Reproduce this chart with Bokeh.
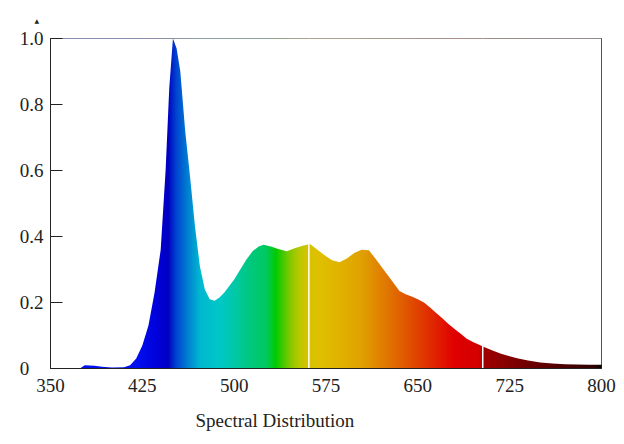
import numpy as np
from bokeh.plotting import figure
from bokeh.models import Range1d, FixedTicker, Title
from bokeh.embed import file_html
from bokeh.resources import INLINE

# spectral data
wavelength = [350, 374, 378, 382, 386, 392, 400, 410, 415, 420, 425, 430, 435, 440, 444, 447, 450,
              453, 456, 460, 464, 468, 472, 476, 480, 484, 488, 492, 496, 500, 505, 510, 515,
              520, 524, 530, 536, 543, 550, 556, 562, 568, 575, 580, 586, 592, 598, 604, 610,
              615, 620, 625, 630, 635, 640, 645, 650, 655, 660, 665, 670, 675, 680, 685, 690,
              695, 700, 706, 712, 718, 725, 731, 740, 750, 760, 770, 780, 790, 800]
intensity = [0.0, 0.0, 0.01, 0.009, 0.008, 0.005, 0.003, 0.004, 0.01, 0.03, 0.07, 0.13, 0.23, 0.36,
             0.6, 0.85, 1.0, 0.97, 0.9, 0.72, 0.58, 0.43, 0.31, 0.24, 0.21, 0.205, 0.215, 0.23,
             0.25, 0.27, 0.30, 0.33, 0.355, 0.37, 0.375, 0.37, 0.362, 0.355, 0.365, 0.372,
             0.377, 0.36, 0.34, 0.328, 0.322, 0.333, 0.35, 0.36, 0.358, 0.335, 0.31, 0.285,
             0.26, 0.235, 0.225, 0.218, 0.21, 0.2, 0.185, 0.168, 0.152, 0.135, 0.12, 0.105,
             0.09, 0.08, 0.072, 0.062, 0.053, 0.045, 0.037, 0.031, 0.024, 0.018, 0.015,
             0.013, 0.012, 0.011, 0.011]

# colour stops of the spectrum fill
stop_nm = [350, 420, 438, 446, 452, 462, 472, 488, 500, 512, 526, 534, 545, 553, 560, 570,
           590, 605, 620, 636, 658, 680, 700, 704, 740, 766, 793, 797, 800]
stop_color = ["#0010f0", "#0010f0", "#0000d8", "#0000c0", "#0040d0", "#0080d0", "#00b8d0",
              "#00c8c8", "#00c8a8", "#00c880", "#00c860", "#00cc00", "#80c800", "#b8c800",
              "#d8c400", "#e0c000", "#e0b000", "#e0a000", "#e08000", "#e06000", "#e03000",
              "#e00000", "#d40000", "#a00000", "#700000", "#500000", "#300000", "#200000",
              "#000000"]
seam_nm = [561, 703]

x_ticks = [350, 425, 500, 575, 650, 725, 800]
y_ticks = [0, 0.2, 0.4, 0.6, 0.8, 1.0]
y_tick_labels = ["0\u00a0\u00a0\u00a0", "0.2", "0.4", "0.6", "0.8", "1.0"]
x_label = "Spectral Distribution"

SERIF = "Liberation Serif"
FS = "19px"

p = figure(width=624, height=444, output_backend="svg", toolbar_location=None,
           x_range=Range1d(350, 800), y_range=Range1d(0, 1.0),
           min_border_left=50, min_border_right=23, min_border_top=38, min_border_bottom=75)
p.grid.visible = False
p.background_fill_color = "white"
p.border_fill_color = "white"
p.outline_line_color = "#222222"
p.outline_line_width = 1

# gradient image (spectrum colours)
cols = np.linspace(350, 800, 901)
rgb = np.array([[int(c[1:3], 16), int(c[3:5], 16), int(c[5:7], 16)] for c in stop_color], dtype=float)
r = np.interp(cols, stop_nm, rgb[:, 0]).astype(np.uint32)
g = np.interp(cols, stop_nm, rgb[:, 1]).astype(np.uint32)
b = np.interp(cols, stop_nm, rgb[:, 2]).astype(np.uint32)
img = (255 << 24) | (b << 16) | (g << 8) | r
img = img.astype(np.uint32).reshape(1, -1)
p.image_rgba(image=[img], x=350, y=0, dw=450, dh=1.0)

# thin white seams in the fill
p.segment(x0=seam_nm, y0=0, x1=seam_nm, y1=1.0, line_color="white", line_width=1.5)

# white mask above the spectrum curve
p.varea(x=wavelength, y1=intensity, y2=1.1, fill_color="white")

# axes
p.xaxis.ticker = FixedTicker(ticks=x_ticks)
p.yaxis.ticker = FixedTicker(ticks=y_ticks)
p.yaxis.major_label_overrides = {v: t for v, t in zip(y_ticks, y_tick_labels)}
for ax in (p.xaxis, p.yaxis):
    ax.axis_line_color = "#222222"
    ax.minor_tick_line_color = None
    ax.major_label_text_font = SERIF
    ax.major_label_text_font_size = FS
    ax.major_label_text_color = "#222222"
p.xaxis.major_tick_in = 0
p.xaxis.major_tick_out = 0
p.xaxis.major_label_standoff = 10
p.yaxis.major_tick_in = 12
p.yaxis.major_tick_out = 0
p.yaxis.major_tick_line_color = "#222222"
p.yaxis.major_label_standoff = 7

p.add_layout(Title(text=x_label, align="left", offset=145, text_font=SERIF,
                   text_font_size=FS, text_font_style="normal", text_color="#222222",
                   standoff=27), "below")
p.add_layout(Title(text="▲", align="left", offset=-16, text_font="DejaVu Sans",
                   text_font_size="6px", text_font_style="normal", text_color="#222222",
                   standoff=29), "above")

open("out.html", "w").write(file_html(p, INLINE))
